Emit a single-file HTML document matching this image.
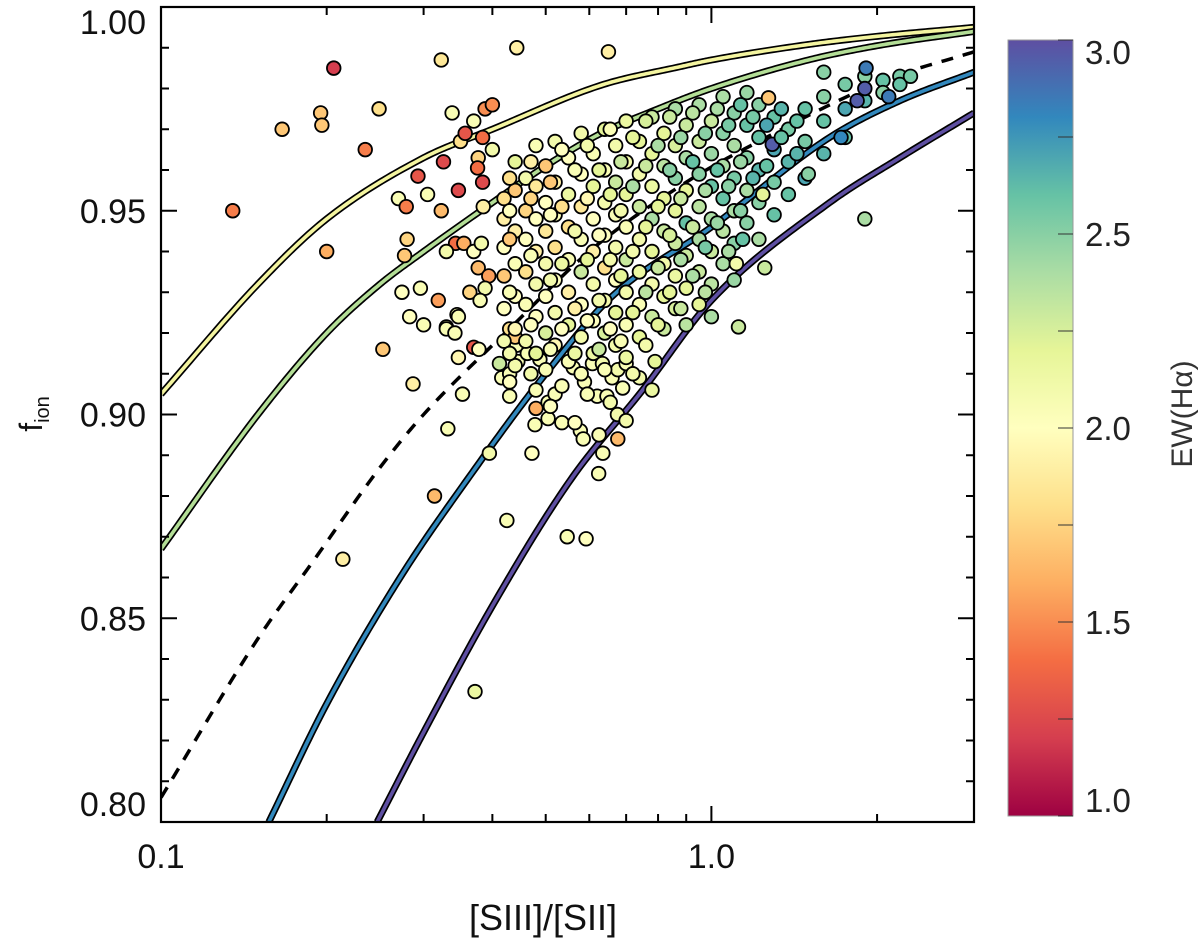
<!DOCTYPE html>
<html><head><meta charset="utf-8"><style>
html,body{margin:0;padding:0;background:#fff;}
svg{display:block;font-family:"Liberation Sans",sans-serif;}
</style></head><body>
<svg id="chart" width="1200" height="941" viewBox="0 0 1200 941" xmlns="http://www.w3.org/2000/svg">
<defs>
<linearGradient id="cbgrad" x1="0" y1="1" x2="0" y2="0">
<stop offset="0" stop-color="#9e0142"/><stop offset="0.1" stop-color="#d53e4f"/><stop offset="0.2" stop-color="#f46d43"/><stop offset="0.3" stop-color="#fdae61"/><stop offset="0.4" stop-color="#fee08b"/><stop offset="0.5" stop-color="#ffffbf"/><stop offset="0.6" stop-color="#e6f598"/><stop offset="0.7" stop-color="#abdda4"/><stop offset="0.8" stop-color="#66c2a5"/><stop offset="0.9" stop-color="#3288bd"/><stop offset="1" stop-color="#5e4fa2"/>
</linearGradient>
<clipPath id="plotclip"><rect x="161" y="7" width="813" height="815"/></clipPath>
</defs>
<g id="curves" clip-path="url(#plotclip)"></g>
<g id="points" clip-path="url(#plotclip)"></g>
<rect x="161" y="7" width="813" height="815" fill="none" stroke="#000" stroke-width="2.2"/>
<g id="ticks"></g>
<g id="labels" font-size="34" fill="#111"></g>
<text x="543" y="930" font-size="36" text-anchor="middle" fill="#111">[SIII]/[SII]</text>
<text transform="translate(42,414) rotate(-90)" font-size="32" text-anchor="middle" fill="#111">f<tspan font-size="20" dy="7">ion</tspan></text>
<rect x="1008" y="40" width="65" height="776" fill="url(#cbgrad)" stroke="#999" stroke-width="1"/>
<g id="cbticks"></g>
<text transform="translate(1192,414) rotate(-90)" font-size="30" text-anchor="middle" fill="#333">EW(Hα)</text>
</svg>
<script>
// ---- data ----
const yellowR=[0.1,0.15,0.2,0.3,0.4,0.63,0.88,1.0,1.5,2.0,3.0];
const yellowF=[0.905,0.932,0.948,0.963,0.970,0.9808,0.9854,0.987,0.9908,0.9928,0.995];
const greenR=[0.1,0.15,0.2,0.25,0.3,0.4,0.5,0.63,0.8,1.0,1.5,2.0,3.0];
const greenF=[0.867,0.900,0.920,0.932,0.940,0.952,0.961,0.969,0.975,0.980,0.987,0.9905,0.994];
const dashR=[0.1,0.15,0.189,0.25,0.3,0.437,0.6,0.9,1.18,2.06,3.0];
const dashF=[0.806,0.845,0.864,0.887,0.900,0.922,0.940,0.957,0.966,0.982,0.989];
const blueR=[0.157,0.2,0.272,0.36,0.5,0.66,1.0,1.64,2.2,3.0];
const blueF=[0.80,0.829,0.860,0.884,0.910,0.929,0.946,0.968,0.977,0.984];
const purpR=[0.247,0.3,0.4,0.555,0.75,1.0,1.64,2.2,3.0];
const purpF=[0.80,0.822,0.853,0.884,0.906,0.928,0.952,0.963,0.974];
const yTicks=[0.80,0.85,0.90,0.95,1.00];
const yTickLabels=["0.80","0.85","0.90","0.95","1.00"];
const xTicks=[0.1,1.0];
const xTickLabels=["0.1","1.0"];
const cbTicks=[1.0,1.5,2.0,2.5,3.0];
const cbTickLabels=["1.0","1.5","2.0","2.5","3.0"];
const ptR=[0.135,0.166,0.195,0.196,0.206,0.235,0.249,0.2,0.323,0.338,0.37,0.388,0.40,0.35,0.357,0.384,0.40,0.326,0.377,0.376,0.384,0.293,0.347,0.27,0.279,0.305,0.323,0.28,0.277,0.343,0.355,0.33,0.37,0.382,0.377,0.394,0.388,0.274,0.296,0.319,0.364,0.38,0.283,0.30,0.345,0.33,0.385,
0.253,0.33,0.342,0.347,0.287,0.353,0.332,0.314,0.214,0.347,0.37,0.378,0.395,0.425,0.372,0.412,0.416,0.43,0.43,0.48,0.505,0.478,0.505,0.535,0.472,0.578,0.585,0.676,0.635,0.624,0.547,0.592,0.445,0.443,0.43,0.44,0.463,0.488,0.561,0.608,0.634,0.588,0.62,0.646,0.66,0.676,0.69,0.70,0.74,0.78,0.79,0.675,0.70,
0.42,0.42,0.42,0.42,0.42,0.42,0.44,0.44,0.44,0.44,0.44,0.44,0.44,0.46,0.46,0.46,0.46,0.46,0.46,0.48,0.48,0.48,0.48,0.48,0.48,0.48,0.48,0.50,0.50,0.50,0.50,0.50,0.50,0.50,
0.52,0.52,0.52,0.52,0.52,0.52,0.52,0.52,0.55,0.55,0.55,0.55,0.55,0.55,0.55,0.58,0.58,0.58,0.58,0.58,0.58,0.58,0.58,0.61,0.61,0.61,0.61,0.61,0.61,0.61,
0.64,0.64,0.64,0.64,0.64,0.64,0.64,0.64,0.67,0.67,0.67,0.67,0.67,0.67,0.67,0.70,0.70,0.70,0.70,0.70,0.70,0.70,0.70,0.74,0.74,0.74,0.74,0.74,0.74,0.74,
0.78,0.78,0.78,0.78,0.78,0.78,0.78,0.82,0.82,0.82,0.82,0.82,0.82,0.82,0.86,0.86,0.86,0.86,0.86,0.86,0.86,0.90,0.90,0.90,0.90,0.90,0.90,0.90,
0.95,0.95,0.95,0.95,0.95,0.95,0.95,1.0,1.0,1.0,1.0,1.0,1.0,1.0,1.05,1.05,1.05,1.05,1.05,1.05,1.10,1.10,1.10,1.10,1.10,1.10,
1.16,1.16,1.16,1.16,1.16,1.22,1.22,1.22,1.22,1.22,1.30,1.30,1.30,1.30,1.38,1.38,1.38,1.48,1.48,1.48,1.6,1.6,1.6,1.75,1.75,1.75,1.9,1.9,2.05,2.05,2.2,2.2,
1.91,1.9,1.84,2.1,1.29,1.72,1.27,1.9,1.5,1.14,1.24,1.25,1.11,1.6,2.3,0.65,0.443,1.12,
0.43,0.43,0.43,0.43,0.43,0.43,0.47,0.47,0.47,0.47,0.47,0.51,0.51,0.51,0.51,0.51,0.535,0.535,0.535,0.535,0.535,0.565,0.565,0.565,0.565,0.565,
0.595,0.595,0.595,0.595,0.595,0.625,0.625,0.625,0.625,0.625,0.655,0.655,0.655,0.655,0.655,0.685,0.685,0.685,0.685,0.72,0.72,0.72,0.72,0.72,
0.76,0.76,0.76,0.76,0.76,0.80,0.80,0.80,0.80,0.84,0.84,0.84,0.84,0.88,0.88,0.88,0.88,0.925,0.925,0.925,0.925,0.975,0.975,0.975,0.975,
1.025,1.025,1.025,1.075,1.075,1.075,1.13,1.13,1.13,1.19,1.19,1.26,1.26,1.34,1.34,1.43,1.43];
const ptF=[0.950,0.970,0.974,0.971,0.985,0.965,0.975,0.940,0.987,0.974,0.972,0.975,0.976,0.967,0.969,0.968,0.965,0.962,0.963,0.9605,0.957,0.9585,0.955,0.953,0.951,0.954,0.950,0.943,0.939,0.942,0.942,0.940,0.940,0.942,0.936,0.934,0.931,0.930,0.931,0.928,0.930,0.928,0.924,0.922,0.9245,0.9215,0.951,
0.916,0.921,0.920,0.924,0.9075,0.905,0.8965,0.880,0.8645,0.914,0.9165,0.916,0.8905,0.874,0.832,0.9125,0.909,0.910,0.9045,0.9015,0.903,0.8975,0.899,0.898,0.8905,0.896,0.894,0.894,0.8905,0.8855,0.870,0.8695,0.913,0.917,0.921,0.919,0.915,0.9135,0.9115,0.9125,0.9125,0.908,0.9045,0.9045,0.909,0.911,0.9065,0.9125,0.909,0.906,0.913,0.900,0.8985,
0.953,0.948,0.941,0.934,0.926,0.918,0.962,0.955,0.945,0.937,0.929,0.921,0.912,0.958,0.950,0.943,0.935,0.927,0.918,0.966,0.956,0.948,0.940,0.932,0.924,0.915,0.906,0.961,0.952,0.945,0.937,0.929,0.920,0.911,
0.967,0.957,0.949,0.941,0.933,0.925,0.917,0.905,0.963,0.954,0.946,0.938,0.930,0.922,0.913,0.969,0.959,0.951,0.943,0.935,0.927,0.919,0.910,0.964,0.956,0.948,0.940,0.932,0.923,0.915,
0.970,0.960,0.952,0.944,0.936,0.928,0.920,0.911,0.966,0.957,0.949,0.941,0.933,0.925,0.917,0.972,0.962,0.954,0.946,0.938,0.930,0.922,0.914,0.967,0.959,0.951,0.943,0.935,0.927,0.919,
0.973,0.964,0.956,0.948,0.940,0.932,0.924,0.969,0.961,0.953,0.945,0.937,0.929,0.921,0.975,0.966,0.958,0.950,0.942,0.934,0.926,0.971,0.963,0.955,0.947,0.939,0.931,0.922,
0.976,0.967,0.959,0.951,0.943,0.935,0.927,0.972,0.964,0.956,0.948,0.940,0.932,0.924,0.978,0.969,0.961,0.953,0.945,0.937,0.974,0.966,0.958,0.950,0.942,0.933,
0.979,0.971,0.963,0.955,0.947,0.976,0.968,0.960,0.952,0.943,0.973,0.965,0.957,0.949,0.970,0.962,0.954,0.975,0.967,0.958,0.978,0.972,0.964,0.981,0.975,0.968,0.983,0.977,0.982,0.979,0.983,0.981,
0.985,0.980,0.977,0.978,0.9663,0.968,0.9777,0.948,0.959,0.943,0.954,0.936,0.937,0.984,0.983,0.989,0.990,0.9215,
0.958,0.950,0.943,0.930,0.915,0.908,0.962,0.953,0.939,0.922,0.910,0.957,0.949,0.933,0.916,0.902,0.965,0.951,0.937,0.921,0.907,0.960,0.945,0.926,0.915,0.898,
0.966,0.953,0.938,0.923,0.905,0.960,0.944,0.928,0.916,0.895,0.970,0.954,0.938,0.921,0.903,0.962,0.950,0.934,0.918,0.968,0.956,0.940,0.925,0.910,
0.972,0.961,0.946,0.930,0.917,0.966,0.951,0.936,0.922,0.973,0.960,0.944,0.930,0.968,0.953,0.938,0.926,0.974,0.962,0.946,0.934,0.969,0.955,0.941,0.930,
0.975,0.960,0.947,0.971,0.956,0.940,0.976,0.962,0.950,0.973,0.958,0.971,0.961,0.968,0.975,0.964,0.972];
const ptEW=[1.45,1.7,1.7,1.7,1.2,1.45,1.8,1.6,1.85,2.05,2.05,1.5,1.5,1.8,1.3,1.4,2.1,1.25,1.75,1.4,1.25,1.3,1.25,2.05,1.45,2.05,1.65,1.75,1.7,1.4,1.6,2.1,2.0,2.1,1.65,1.55,2.1,2.0,2.05,1.55,1.75,2.05,2.0,2.05,2.1,2.1,1.9,
1.7,2.05,2.05,2.05,1.9,2.05,2.05,1.65,1.9,1.95,1.3,2.0,2.1,2.05,2.15,2.3,2.05,2.05,2.05,1.6,2.05,2.05,2.05,2.05,2.0,2.05,2.05,1.65,2.05,2.05,2.05,2.0,2.05,2.05,1.8,1.7,2.05,2.05,2.05,2.05,2.1,2.05,2.05,2.05,2.05,2.1,2.05,2.05,2.1,2.15,2.2,2.1,2.1,
1.8,1.9,2.0,1.7,2.0,2.1,2.2,1.7,1.9,2.05,2.0,1.95,2.1,2.1,1.75,2.0,1.8,2.05,2.1,2.05,1.85,2.0,1.9,2.1,2.0,2.2,2.05,1.7,2.0,1.85,2.1,2.0,2.25,2.05,
2.1,1.9,2.05,1.8,2.0,2.1,1.95,2.05,2.0,2.15,1.8,2.05,1.9,2.2,2.05,2.1,2.0,1.85,2.05,2.3,2.0,2.1,2.05,2.05,2.2,2.0,1.9,2.1,2.0,2.15,
2.2,2.05,2.1,2.0,1.8,2.1,2.25,2.05,2.1,2.3,2.05,2.1,2.0,2.2,2.1,2.15,2.1,2.2,2.05,2.3,2.1,2.05,2.15,2.2,2.1,2.3,2.1,2.15,2.05,2.2,
2.3,2.2,2.15,2.4,2.2,2.1,2.3,2.2,2.35,2.2,2.3,2.1,2.2,2.3,2.4,2.25,2.5,2.2,2.3,2.15,2.25,2.3,2.4,2.2,2.6,2.3,2.2,2.35,
2.4,2.3,2.5,2.35,2.4,2.3,2.2,2.3,2.45,2.6,2.4,2.3,2.35,2.4,2.4,2.5,2.4,2.6,2.35,2.4,2.5,2.4,2.55,2.4,2.5,2.45,
2.45,2.6,2.5,2.4,2.5,2.5,2.6,2.65,2.5,2.4,2.6,2.7,2.55,2.6,2.55,2.65,2.6,2.6,2.55,2.7,2.5,2.6,2.65,2.55,2.7,2.6,2.5,2.65,2.6,2.5,2.55,2.6,
2.85,2.95,2.95,2.85,2.95,2.8,1.7,2.4,2.5,2.6,2.2,2.3,2.1,2.5,2.55,1.9,1.9,2.3,
1.8,2.0,1.7,2.05,2.1,2.0,1.9,1.75,2.05,2.0,2.1,1.7,2.0,2.1,2.05,2.0,2.0,1.8,2.15,2.0,2.05,2.05,2.1,1.9,2.15,2.0,
2.1,1.95,2.2,2.0,2.05,2.2,2.0,2.1,2.3,2.05,2.05,2.2,2.1,2.0,2.1,2.3,2.1,2.2,2.05,2.2,2.4,2.1,2.2,2.1,
2.25,2.3,2.2,2.35,2.1,2.4,2.2,2.3,2.2,2.3,2.5,2.25,2.2,2.45,2.3,2.4,2.3,2.35,2.6,2.3,2.4,2.5,2.4,2.55,2.35,
2.4,2.6,2.45,2.55,2.5,2.4,2.6,2.45,2.5,2.55,2.65,2.7,2.6,2.6,2.65,2.65,2.6];

// ---- axes ----
const X0=161,X1=974,Y0=822,Y1=7;
const XMIN=0.1,XMAX=3.0,YMIN=0.80,YMAX=1.00;
function xs(r){return X0+(Math.log10(r)-Math.log10(XMIN))/(Math.log10(XMAX)-Math.log10(XMIN))*(X1-X0);}
function ys(f){return Y0-(f-YMIN)/(YMAX-YMIN)*(Y0-Y1);}
const CB_Y0=816,CB_Y1=40;
function cbY(v){return CB_Y0-(v-1.0)/2.0*(CB_Y0-CB_Y1);}
const NS='http://www.w3.org/2000/svg';
const stops=[[0,'#9e0142'],[0.1,'#d53e4f'],[0.2,'#f46d43'],[0.3,'#fdae61'],[0.4,'#fee08b'],[0.5,'#ffffbf'],[0.6,'#e6f598'],[0.7,'#abdda4'],[0.8,'#66c2a5'],[0.9,'#3288bd'],[1,'#5e4fa2']];
function hex(h){return [parseInt(h.slice(1,3),16),parseInt(h.slice(3,5),16),parseInt(h.slice(5,7),16)];}
function cmap(v){let t=Math.max(0,Math.min(1,(v-1)/2));for(let i=1;i<stops.length;i++){if(t<=stops[i][0]){const a=stops[i-1],b=stops[i];const u=(t-a[0])/(b[0]-a[0]);const ca=hex(a[1]),cb=hex(b[1]);return 'rgb('+ca.map((c,k)=>Math.round(c+(cb[k]-c)*u)).join(',')+')';}}return stops[10][1];}
function mk(tag,attrs,parent){const e=document.createElementNS(NS,tag);for(const k in attrs)e.setAttribute(k,attrs[k]);parent.appendChild(e);return e;}
// monotone cubic (Fritsch-Carlson) interpolation in log-x space
function smoothPath(R,F){
 const X=R.map(r=>Math.log10(r)),n=X.length;
 const d=[],m=new Array(n);
 for(let i=0;i<n-1;i++)d.push((F[i+1]-F[i])/(X[i+1]-X[i]));
 m[0]=d[0];m[n-1]=d[n-2];
 for(let i=1;i<n-1;i++){m[i]=(d[i-1]*d[i]<=0)?0:(d[i-1]+d[i])/2;}
 for(let i=0;i<n-1;i++){if(d[i]===0){m[i]=0;m[i+1]=0;continue;}const a=m[i]/d[i],b=m[i+1]/d[i],s=a*a+b*b;if(s>9){const t=3/Math.sqrt(s);m[i]=t*a*d[i];m[i+1]=t*b*d[i];}}
 let path='';
 for(let i=0;i<n-1;i++){const h=X[i+1]-X[i];const steps=30;
  for(let k=(i===0?0:1);k<=steps;k++){const t=k/steps;const h00=2*t*t*t-3*t*t+1,h10=t*t*t-2*t*t+t,h01=-2*t*t*t+3*t*t,h11=t*t*t-t*t;
   const f=h00*F[i]+h10*h*m[i]+h01*F[i+1]+h11*h*m[i+1];const x=Math.pow(10,X[i]+t*h);
   path+=(path?' L':'M')+xs(x).toFixed(2)+','+ys(f).toFixed(2);}}
 return path;}

const cg=document.getElementById('curves');
function curve(R,F,color,name){const d=smoothPath(R,F);
 const o=mk('path',{d:d,fill:'none',stroke:'#000','stroke-width':7},cg);
 
 
 const c=mk('path',{d:d,fill:'none',stroke:color,'stroke-width':3.6},cg);
 
 }
curve(yellowR,yellowF,'#f4f5a0','curve-ew-2.0');
curve(greenR,greenF,'#b3de96','curve-ew-2.25');
curve(blueR,blueF,'#3288bd','curve-ew-2.75');
curve(purpR,purpF,'#5e4fa2','curve-ew-3.0');
const dp=mk('path',{d:smoothPath(dashR,dashF),fill:'none',stroke:'#000','stroke-width':3.5,'stroke-dasharray':'12,10'},cg);



const pg=document.getElementById('points');
for(let i=0;i<ptR.length;i++){
 const c=mk('circle',{cx:xs(ptR[i]),cy:ys(ptF[i]),r:6.8,fill:cmap(ptEW[i]),stroke:'#000','stroke-width':1.8},pg);
 
 
}

const tg=document.getElementById('ticks');
function tick(x1,y1,x2,y2){const l=mk('line',{x1:x1,y1:y1,x2:x2,y2:y2,stroke:'#000','stroke-width':2},tg);
 
 }
for(let k=0;k<=20;k++){const f=0.80+k*0.01;const y=ys(f);const L=(k%5===0)?16:8;tick(X0,y,X0+L,y);tick(X1,y,X1-L,y);}
[0.2,0.3,0.4,0.5,0.6,0.7,0.8,0.9,2,3].forEach(r=>{const x=xs(r);tick(x,Y0,x,Y0-8);tick(x,Y1,x,Y1+8);});
xTicks.forEach(r=>{const x=xs(r);tick(x,Y0,x,Y0-16);tick(x,Y1,x,Y1+16);});

const lg=document.getElementById('labels');
yTicks.forEach((v,i)=>{let y=ys(v)+12;if(i===0)y=ys(v)-6;if(i===yTicks.length-1)y=ys(v)+27;
 const t=mk('text',{x:146,y:y,'text-anchor':'end'},lg);t.textContent=yTickLabels[i];
 
 });
xTicks.forEach((v,i)=>{const t=mk('text',{x:xs(v),y:868,'text-anchor':'middle'},lg);t.textContent=xTickLabels[i];
 
 });

const cbt=document.getElementById('cbticks');
for(let k=0;k<=8;k++){const v=1.0+k*0.25;const y=cbY(v);const l=mk('line',{x1:1073,y1:y,x2:1058,y2:y,stroke:'#333','stroke-width':1},cbt);
 
 }
cbTicks.forEach((v,i)=>{let y=cbY(v)+12;if(i===0)y=cbY(v)-4;if(i===cbTicks.length-1)y=cbY(v)+24;
 const t=mk('text',{x:1085,y:y,'font-size':33,fill:'#222'},cbt);t.textContent=cbTickLabels[i];
 
 });
</script>
</body></html>
